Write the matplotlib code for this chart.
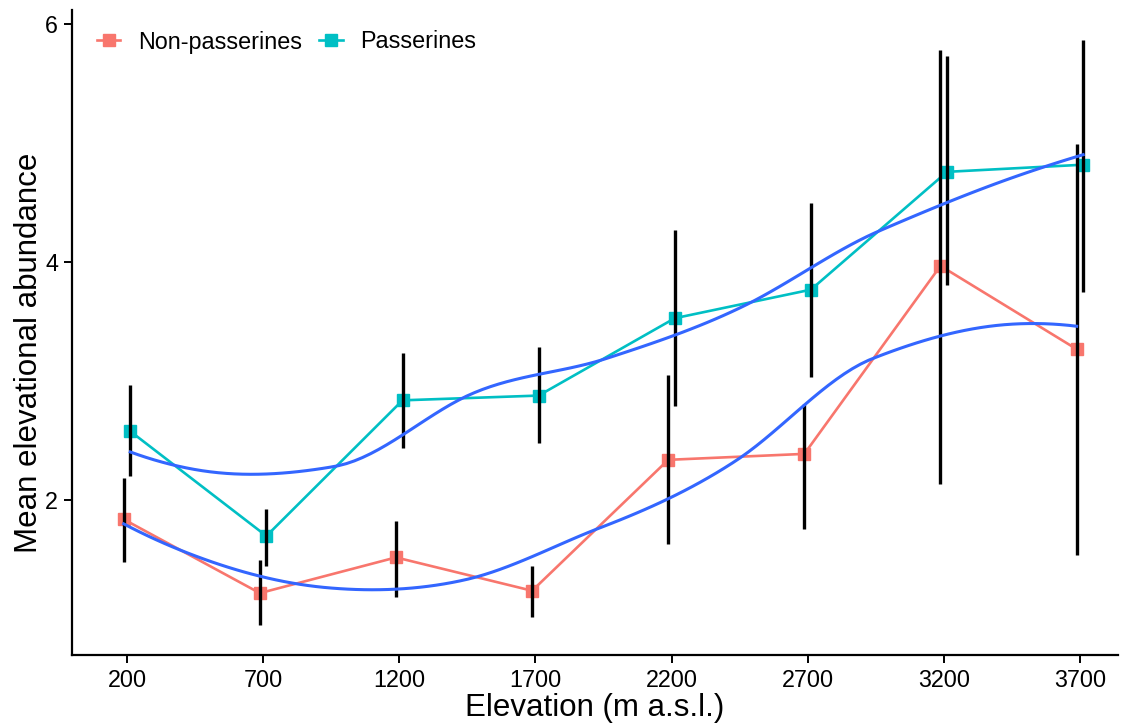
import matplotlib.pyplot as plt
import numpy as np
from matplotlib.lines import Line2D

plt.rcParams["font.family"] = ["Liberation Sans", "DejaVu Sans"]

# elevation classes (m a.s.l.)
elevation = np.array([200, 700, 1200, 1700, 2200, 2700, 3200, 3700])

# mean abundance and error bar ends
nonpass_mean = np.array([1.84, 1.22, 1.52, 1.24, 2.34, 2.39, 3.97, 3.27])
nonpass_low = np.array([1.48, 0.95, 1.19, 1.02, 1.63, 1.76, 2.14, 1.54])
nonpass_high = np.array([2.19, 1.50, 1.83, 1.45, 3.05, 2.81, 5.78, 4.99])

pass_mean = np.array([2.58, 1.70, 2.84, 2.88, 3.53, 3.77, 4.76, 4.82])
pass_low = np.array([2.20, 1.45, 2.44, 2.48, 2.79, 3.04, 3.81, 3.75])
pass_high = np.array([2.97, 1.93, 3.24, 3.29, 4.27, 4.50, 5.73, 5.87])

groups = ["Non-passerines", "Passerines"]
colors = ["#F8766D", "#00BFC4"]
dodge = 12


def local_fit(x, y, x0, span=0.75):
    # local quadratic with tricube weights -> value and slope at x0
    n = len(x)
    q = int(np.floor(n * span))
    d = np.abs(x - x0)
    rho = np.sort(d)[q - 1]
    w = np.where(d < rho, (1 - (d / rho) ** 3) ** 3, 0.0)
    X = np.vstack([np.ones(n), x - x0, (x - x0) ** 2]).T
    W = np.diag(w)
    beta = np.linalg.lstsq(X.T @ W @ X, X.T @ W @ y, rcond=None)[0]
    return beta[0], beta[1]


def split_points(xs):
    # kd-style median splits, as loess builds its vertices
    if len(xs) <= 1:
        return []
    m = len(xs) // 2
    v = (xs[m - 1] + xs[m]) / 2 if len(xs) % 2 == 0 else xs[m]
    return split_points(xs[:m]) + [v] + split_points(xs[m:])


def loess(x, y, xout, span=0.75):
    x = np.sort(x)
    t = 0.005 * (x.max() - x.min())
    verts = np.array([x.min() - t] + split_points(list(x)) + [x.max() + t])
    vals = np.array([local_fit(x, y, v, span) for v in verts])
    out = []
    for xx in xout:
        i = min(np.searchsorted(verts, xx, side="right") - 1, len(verts) - 2)
        h = verts[i + 1] - verts[i]
        s = (xx - verts[i]) / h
        h00 = 2 * s**3 - 3 * s**2 + 1
        h10 = s**3 - 2 * s**2 + s
        h01 = -2 * s**3 + 3 * s**2
        h11 = s**3 - s**2
        out.append(h00 * vals[i, 0] + h10 * h * vals[i, 1] + h01 * vals[i + 1, 0] + h11 * h * vals[i + 1, 1])
    return np.array(out)


fig = plt.figure(figsize=(11.21, 7.28), dpi=100)
ax = fig.add_axes([72 / 1121, 73 / 728, 1046 / 1121, 645 / 728])

series = [
    (nonpass_mean, nonpass_low, nonpass_high, -dodge),
    (pass_mean, pass_low, pass_high, dodge),
]
for (m, lo, hi, off), col in zip(series, colors):
    xs = (elevation + off).astype(float)
    ax.plot(xs, m, color=col, lw=1.9, zorder=2)
    ax.plot(xs, m, "s", color=col, ms=9, zorder=3)
    ax.vlines(xs, lo, hi, color="black", lw=2.4, zorder=4)
    xg = np.linspace(xs.min(), xs.max(), 120)
    ax.plot(xg, loess(xs, m, xg), color="#3366FF", lw=2.2, zorder=5)

ax.set_xlim(-2, 3840)
ax.set_ylim(0.70, 6.12)
ax.set_xticks(elevation)
ax.set_yticks([2, 4, 6])
for s in ["top", "right"]:
    ax.spines[s].set_visible(False)
for s in ["left", "bottom"]:
    ax.spines[s].set_linewidth(1.6)
ax.tick_params(width=1.4, length=6, colors="black", labelsize=16.8, pad=4)

ax.set_xlabel("Elevation (m a.s.l.)", fontsize=22.5, labelpad=1)
ax.set_ylabel("Mean elevational abundance", fontsize=22.5)
ax.yaxis.set_label_coords(-0.027, 0.468)

handles = [Line2D([], [], color=c, marker="s", ms=9, lw=1.9) for c in colors]
fig.legend(handles, groups, loc="center left", bbox_to_anchor=(97 / 1121, 1 - 42 / 728), ncol=2,
           frameon=False, borderpad=0, borderaxespad=0, handlelength=1.0, columnspacing=0.75,
           handletextpad=0.75, fontsize=16.8)

fig.savefig("out.png", dpi=100)
